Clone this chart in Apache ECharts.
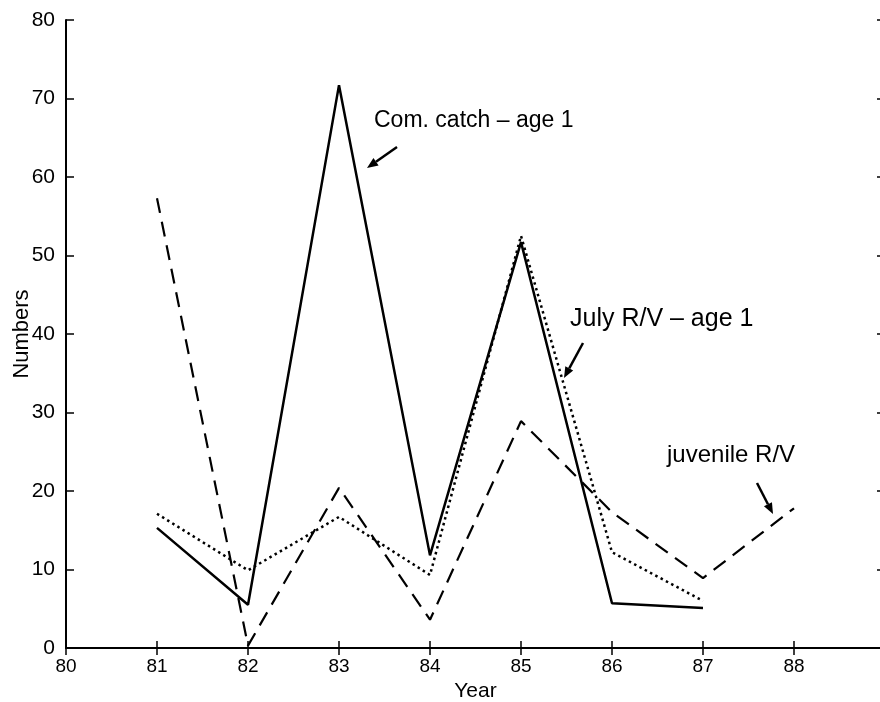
<!DOCTYPE html>
<html>
<head>
<meta charset="utf-8">
<script src="https://cdn.jsdelivr.net/npm/echarts@6/dist/echarts.min.js"></script>
<style>html,body{margin:0;padding:0;background:#fff}#c{width:880px;height:702px}</style>
</head>
<body>
<div id="c"></div>
<script>
var years = [81, 82, 83, 84, 85, 86, 87];
var juvYears = [81, 82, 83, 84, 85, 86, 87, 88];
var comCatch = [15.3, 5.5, 71.7, 11.8, 51.7, 5.7, 5.1];
var julyRV = [17.1, 9.9, 16.7, 9.3, 52.5, 12.2, 6.0];
var juvenileRV = [57.3, 0.3, 20.4, 3.6, 28.9, 17.3, 8.9, 17.8];
var xTicks = [80, 81, 82, 83, 84, 85, 86, 87, 88];
var yTicks = [0, 10, 20, 30, 40, 50, 60, 70, 80];

function pairs(xs, ys) { return xs.map(function (x, i) { return [x, ys[i]]; }); }

var FONT = '"Liberation Sans", Arial, Helvetica, sans-serif';
var chart = echarts.init(document.getElementById('c'), null, {renderer: 'canvas'});

function arrow(x1, y1, x2, y2) {
  var dx = x2 - x1, dy = y2 - y1, L = Math.sqrt(dx*dx + dy*dy);
  var ux = dx / L, uy = dy / L, hl = 11, hw = 4.5;
  var bx = x2 - ux * hl, by = y2 - uy * hl;
  return [
    {type: 'line', shape: {x1: x1, y1: y1, x2: bx, y2: by}, style: {stroke: '#000', lineWidth: 2.5}, z: 100},
    {type: 'polygon', shape: {points: [[x2, y2], [bx - uy * hw, by + ux * hw], [bx + uy * hw, by - ux * hw]]}, style: {fill: '#000'}, z: 100}
  ];
}

var graphics = [
  {type: 'text', left: 374, top: 109, style: {text: 'Com. catch – age 1', font: '23px ' + FONT, fill: '#000'}, z: 100},
  {type: 'text', left: 570, top: 307, style: {text: 'July R/V – age 1', font: '25px ' + FONT, fill: '#000'}, z: 100},
  {type: 'text', left: 667, top: 443, style: {text: 'juvenile R/V', font: '24px ' + FONT, fill: '#000'}, z: 100}
].concat(arrow(397, 147, 367, 168)).concat(arrow(583, 343, 564, 378)).concat(arrow(757, 483, 773, 514));

var axisText = {color: '#000', fontFamily: FONT};
chart.setOption({
  animation: false,
  backgroundColor: '#fff',
  grid: {left: 66, right: -5, top: 20, bottom: 54, containLabel: false, outerBoundsMode: 'none'},
  xAxis: [{
    type: 'value', min: 80, max: 89, interval: 1, position: 'bottom',
    name: 'Year', nameLocation: 'middle', nameGap: 31,
    nameTextStyle: {color: '#000', fontFamily: FONT, fontSize: 21},
    axisLine: {show: true, lineStyle: {color: '#000', width: 2}},
    axisTick: {show: true, inside: true, length: 7, lineStyle: {color: '#000', width: 1.5}},
    axisLabel: Object.assign({fontSize: 19, margin: 9, formatter: function (v) { return xTicks.indexOf(v) >= 0 ? String(v) : ''; }}, axisText),
    splitLine: {show: false}
  }, {
    type: 'value', min: 80, max: 89, interval: 1, position: 'top',
    axisLine: {show: true, lineStyle: {color: '#000', width: 2}},
    axisTick: {show: true, inside: true, length: 7, lineStyle: {color: '#000', width: 1.5}},
    axisLabel: {show: false}, splitLine: {show: false}
  }],
  yAxis: [{
    type: 'value', min: 0, max: 80, interval: 10, position: 'left',
    name: 'Numbers', nameLocation: 'middle', nameGap: 33, nameRotate: 90, nameMoveOverlap: false,
    nameTextStyle: {color: '#000', fontFamily: FONT, fontSize: 22},
    axisLine: {show: true, lineStyle: {color: '#000', width: 2}},
    axisTick: {show: true, inside: true, length: 8, lineStyle: {color: '#000', width: 1.5}},
    axisLabel: Object.assign({fontSize: 21, margin: 11, formatter: function (v) { return yTicks.indexOf(v) >= 0 ? String(v) : ''; }}, axisText),
    splitLine: {show: false}
  }, {
    type: 'value', min: 0, max: 80, interval: 10, position: 'right',
    axisLine: {show: true, lineStyle: {color: '#000', width: 2}},
    axisTick: {show: true, inside: true, length: 8, lineStyle: {color: '#000', width: 1.5}},
    axisLabel: {show: false}, splitLine: {show: false}
  }],
  series: [{
    name: 'Com. catch - age 1', type: 'line', data: pairs(years, comCatch),
    symbol: 'none', lineStyle: {color: '#000', width: 2.5, type: 'solid'}, z: 3
  }, {
    name: 'July R/V - age 1', type: 'line', data: pairs(years, julyRV),
    symbol: 'none', lineStyle: {color: '#000', width: 2.5, type: [2.5, 3.5]}, z: 2
  }, {
    name: 'juvenile R/V', type: 'line', data: pairs(juvYears, juvenileRV),
    symbol: 'none', lineStyle: {color: '#000', width: 2.2, type: [15, 9]}, z: 2
  }],
  graphic: graphics
});
</script>
</body>
</html>
